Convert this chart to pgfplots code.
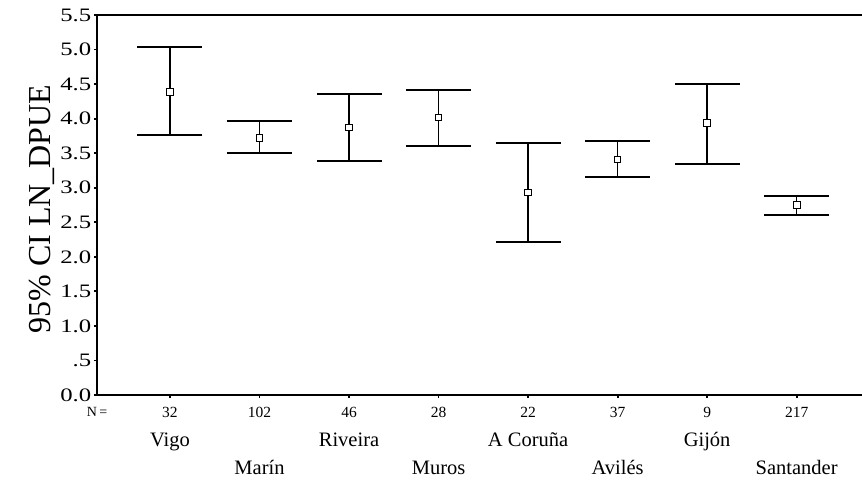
\documentclass[border=0pt]{standalone}
\usepackage{pgfplots}
\pgfplotsset{compat=1.18}
\usepackage{pgfplotstable}
\usepackage{fontspec}
\setmainfont{Liberation Serif}
\pgfplotstableread{
x y lo hi
0 4.39 3.76 5.04
1 3.72 3.50 3.96
2 3.87 3.39 4.36
3 4.02 3.61 4.42
4 2.93 2.22 3.65
5 3.41 3.15 3.67
6 3.94 3.35 4.50
7 2.75 2.61 2.88
}\cidata
\tikzset{nlab/.style={font=\fontsize{15.5}{15.5}\selectfont, anchor=base},
  clab/.style={font=\fontsize{20.5}{20.5}\selectfont, anchor=base}}
\begin{document}
\begin{tikzpicture}
\begin{axis}[
  scale only axis,
  width=765pt, height=380pt,
  xmin=-0.815, xmax=7.73,
  ymin=0, ymax=5.5,
  separate axis lines,
  axis x line*=box,
  axis y line*=left,
  axis line style={line width=1.5pt, -},
  xtick={0,...,7},
  xticklabels={},
  xtick pos=left,
  ytick={0,0.5,...,5.5},
  yticklabels={0.0,.5,1.0,1.5,2.0,2.5,3.0,3.5,4.0,4.5,5.0,5.5},
  yticklabel style={font=\fontsize{19}{19}\selectfont, xscale=1.3, inner sep=2pt},
  tick align=outside,
  major tick length=3pt,
  tick style={line width=1.8pt, black},
  ylabel={95\% CI LN\_DPUE},
  ylabel style={font=\fontsize{32}{32}\selectfont, xshift=-4pt},
  clip=false,
]
\addplot[only marks, mark=square*, mark size=3.3pt,
  mark options={fill=white, draw=black, line width=0.9pt},
  error bars/.cd, y dir=both, y explicit,
  error bar style={line width=1.6pt, black},
  error mark options={rotate=90, mark size=32.5pt, line width=2pt, black}]
  table[x=x, y=y, y error plus expr=\thisrow{hi}-\thisrow{y}, y error minus expr=\thisrow{y}-\thisrow{lo}] {\cidata};
% N row and labels
\node[font=\fontsize{14}{14}\selectfont, anchor=base] at ([yshift=-21pt]axis cs:-0.815,0) {N\,=};
\node[nlab] at ([yshift=-22pt]axis cs:0,0) {32};
\node[nlab] at ([yshift=-22pt]axis cs:1,0) {102};
\node[nlab] at ([yshift=-22pt]axis cs:2,0) {46};
\node[nlab] at ([yshift=-22pt]axis cs:3,0) {28};
\node[nlab] at ([yshift=-22pt]axis cs:4,0) {22};
\node[nlab] at ([yshift=-22pt]axis cs:5,0) {37};
\node[nlab] at ([yshift=-22pt]axis cs:6,0) {9};
\node[nlab] at ([yshift=-22pt]axis cs:7,0) {217};
\node[clab] at ([yshift=-51pt]axis cs:0,0) {Vigo};
\node[clab] at ([yshift=-51pt]axis cs:2,0) {Riveira};
\node[clab] at ([yshift=-51pt]axis cs:4,0) {A Coruña};
\node[clab] at ([yshift=-51pt]axis cs:6,0) {Gijón};
\node[clab] at ([yshift=-79pt]axis cs:1,0) {Marín};
\node[clab] at ([yshift=-79pt]axis cs:3,0) {Muros};
\node[clab] at ([yshift=-79pt]axis cs:5,0) {Avilés};
\node[clab] at ([yshift=-79pt]axis cs:7,0) {Santander};
\end{axis}
\pgfresetboundingbox
\path ([xshift=-97pt,yshift=-92pt]current axis.south west) rectangle ([yshift=15pt]current axis.north east);
\end{tikzpicture}
\end{document}
